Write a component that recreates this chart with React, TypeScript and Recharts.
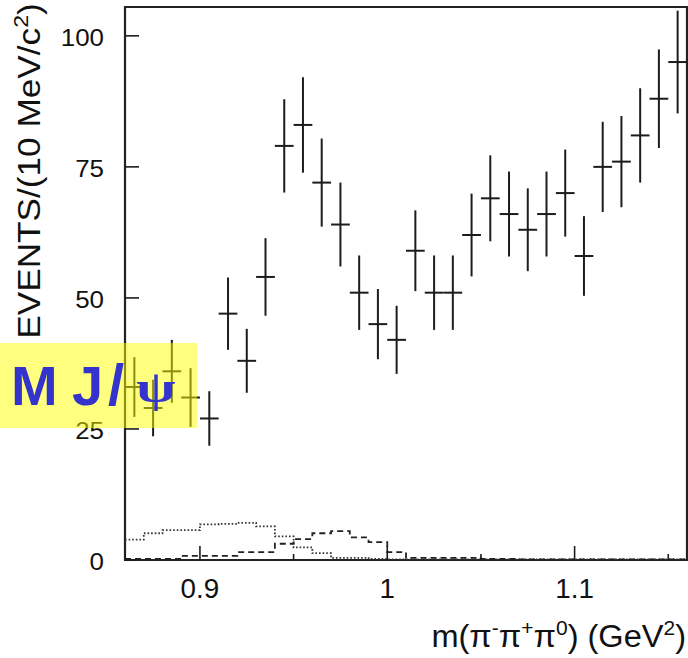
import React from 'react';
import {
  ComposedChart,
  Scatter,
  Line,
  XAxis,
  YAxis,
  ErrorBar,
  ReferenceArea,
} from 'recharts';

// ---- data ----
const massBins = [
  0.865, 0.875, 0.885, 0.895, 0.905, 0.915, 0.925, 0.935, 0.945, 0.955,
  0.965, 0.975, 0.985, 0.995, 1.005, 1.015, 1.025, 1.035, 1.045, 1.055,
  1.065, 1.075, 1.085, 1.095, 1.105, 1.115, 1.125, 1.135, 1.145, 1.155,
];
const events = [
  33, 29, 36, 31, 27, 47, 38, 54, 79, 83,
  72, 64, 51, 45, 42, 59, 51, 51, 62, 69,
  66, 63, 66, 70, 58, 75, 76, 81, 88, 95,
];
const eventErrors = [
  5.7, 5.4, 6.0, 5.6, 5.2, 6.9, 6.1, 7.4, 8.9, 9.1,
  8.4, 8.0, 7.1, 6.7, 6.5, 7.7, 7.1, 7.1, 7.9, 8.2,
  8.1, 7.9, 8.1, 8.3, 7.6, 8.6, 8.7, 9.0, 9.4, 9.8,
];
const halfBin = 0.005;

const bgEdges = [
  0.86, 0.87, 0.88, 0.89, 0.9, 0.91, 0.92, 0.93, 0.94, 0.95, 0.96,
  0.97, 0.98, 0.99, 1.0, 1.01, 1.02, 1.03, 1.04, 1.05, 1.06,
  1.07, 1.08, 1.09, 1.1, 1.11, 1.12, 1.13, 1.14, 1.15, 1.16,
];
const dottedBackground = [
  3.9, 5.1, 5.7, 5.7, 6.8, 6.9, 7.1, 6.4, 4.5, 2.4, 1.3,
  0.4, 0.4, 0.2, 0.1, 0.1, 0.1, 0.1, 0.1, 0.1, 0.1,
  0.1, 0.1, 0.1, 0.1, 0.1, 0.1, 0.1, 0.1, 0.1, 0.1,
];
const dashedBackground = [
  0.2, 0.2, 0.2, 0.8, 0.8, 0.8, 1.5, 1.5, 3.1, 4.0, 5.1,
  5.5, 4.3, 3.4, 1.5, 0.4, 0.4, 0.4, 0.4, 0.2, 0.2,
  0.1, 0.1, 0.1, 0.1, 0.1, 0.1, 0.1, 0.1, 0.1, 0.1,
];

const xTicks = [0.9, 0.95, 1.0, 1.05, 1.1, 1.15];
const xMajorLabels: Record<string, string> = { '0.9': '0.9', '1': '1', '1.1': '1.1' };
const yTicks = [0, 25, 50, 75, 100];
const xDomain = [0.86, 1.16];
const yDomain = [0, 105.5];

const yTitle = 'EVENTS/(10 MeV/c';
const overlayGlyphs = ['M', 'J', '/'];
const overlayPsi = 'ψ';

const points = massBins.map((m, i) => ({
  mass: m,
  events: events[i],
  err: eventErrors[i],
  xErr: halfBin,
}));
const background = bgEdges.map((m, i) => ({
  mass: m,
  dotted: dottedBackground[i],
  dashed: dashedBackground[i],
}));

const FONT = '"Liberation Sans", Arial, Helvetica, sans-serif';
const INK = '#1c1c1c';
const BLUE = '#3434cc';

const XTick = (props: any) => {
  const { x, y, payload } = props;
  const v = Number(payload.value);
  const key = String(Math.round(v * 100) / 100);
  const major = key in xMajorLabels;
  return (
    <g>
      <line x1={x} x2={x} y1={y} y2={y - (major ? 14 : 6)} stroke={INK} strokeWidth={1.6} />
      {major && (
        <text
          transform={`translate(${x},${y + 38}) scale(1.03,1)`}
          textAnchor="middle"
          fontFamily={FONT}
          fontSize={27}
          fill="#111"
        >
          {xMajorLabels[key]}
        </text>
      )}
    </g>
  );
};

const YTick = (props: any) => {
  const { x, y, payload } = props;
  return (
    <g>
      <line x1={x} x2={x + 14} y1={y} y2={y} stroke={INK} strokeWidth={1.6} />
      <text
        transform={`translate(${x - 21},${y + 10}) scale(1.08,1)`}
        textAnchor="end"
        fontFamily={FONT}
        fontSize={24}
        fill="#111"
      >
        {payload.value}
      </text>
    </g>
  );
};

export default function App() {
  return (
    <div
      style={{
        position: 'absolute',
        left: 0,
        top: 0,
        width: 688,
        height: 658,
        background: '#fff',
        overflow: 'hidden',
      }}
    >
      <ComposedChart
        width={688}
        height={658}
        data={points}
        margin={{ top: 7, right: 1, bottom: 0, left: 0 }}
      >
        <XAxis
          type="number"
          dataKey="mass"
          domain={xDomain}
          ticks={xTicks}
          allowDataOverflow
          height={98}
          axisLine={false}
          tickLine={false}
          tickSize={0}
          tickMargin={0}
          tick={<XTick />}
          interval={0}
        />
        <YAxis
          type="number"
          dataKey="events"
          domain={yDomain}
          ticks={yTicks}
          allowDataOverflow
          width={125}
          axisLine={false}
          tickLine={false}
          tickSize={0}
          tickMargin={0}
          tick={<YTick />}
          interval={0}
        />
        <ReferenceArea
          x1={xDomain[0]}
          x2={xDomain[1]}
          y1={yDomain[0]}
          y2={yDomain[1]}
          fill="none"
          fillOpacity={0}
          stroke="#222"
          strokeWidth={2.2}
          ifOverflow="visible"
        />
        <Line
          data={background}
          dataKey="dotted"
          type="stepAfter"
          stroke="#333"
          strokeWidth={1.8}
          strokeDasharray="1.6 2"
          dot={false}
          activeDot={false}
          isAnimationActive={false}
        />
        <Line
          data={background}
          dataKey="dashed"
          type="stepAfter"
          stroke="#222"
          strokeWidth={1.8}
          strokeDasharray="6 4"
          dot={false}
          activeDot={false}
          isAnimationActive={false}
        />
        <Scatter
          data={points}
          dataKey="events"
          shape={() => <g />}
          isAnimationActive={false}
        >
          <ErrorBar dataKey="err" direction="y" width={0} stroke={INK} strokeWidth={2} />
          <ErrorBar dataKey="xErr" direction="x" width={0} stroke={INK} strokeWidth={2} />
        </Scatter>
      </ComposedChart>
      <svg
        width={688}
        height={658}
        style={{ position: 'absolute', left: 0, top: 0, pointerEvents: 'none' }}
      >
        <text
          transform="translate(40,171) rotate(-90) scale(1.1,1)"
          textAnchor="middle"
          fontFamily={FONT}
          fontSize={32}
          fill="#111"
        >
          {yTitle}
          <tspan fontSize={21} dy={-12}>2</tspan>
          <tspan dy={12}>)</tspan>
        </text>
        <text
          transform="translate(686,647) scale(1.05,1)"
          textAnchor="end"
          fontFamily={FONT}
          fontSize={31}
          fill="#111"
        >
          m(π<tspan fontSize={20} dy={-12}>-</tspan>
          <tspan dy={12}>π</tspan>
          <tspan fontSize={20} dy={-12}>+</tspan>
          <tspan dy={12}>π</tspan>
          <tspan fontSize={20} dy={-12}>0</tspan>
          <tspan dy={12}>) (GeV</tspan>
          <tspan fontSize={20} dy={-12}>2</tspan>
          <tspan dy={12}>)</tspan>
        </text>
        <rect x={0} y={343} width={197} height={85} fill="rgba(255,255,0,0.5)" />
        <text
          y={405}
          fontFamily={FONT}
          fontWeight="bold"
          fontSize={56}
          fill={BLUE}
        >
          <tspan x={11}>{overlayGlyphs[0]}</tspan>
          <tspan x={72}>{overlayGlyphs[1]}</tspan>
          <tspan x={108} fontSize={58}>{overlayGlyphs[2]}</tspan>
        </text>
        <text
          transform="translate(156,402) scale(1.3,1)"
          textAnchor="middle"
          fontFamily={'"Liberation Serif", "DejaVu Serif", serif'}
          fontWeight="bold"
          fontSize={44}
          fill={BLUE}
        >
          {overlayPsi}
        </text>
      </svg>
    </div>
  );
}
